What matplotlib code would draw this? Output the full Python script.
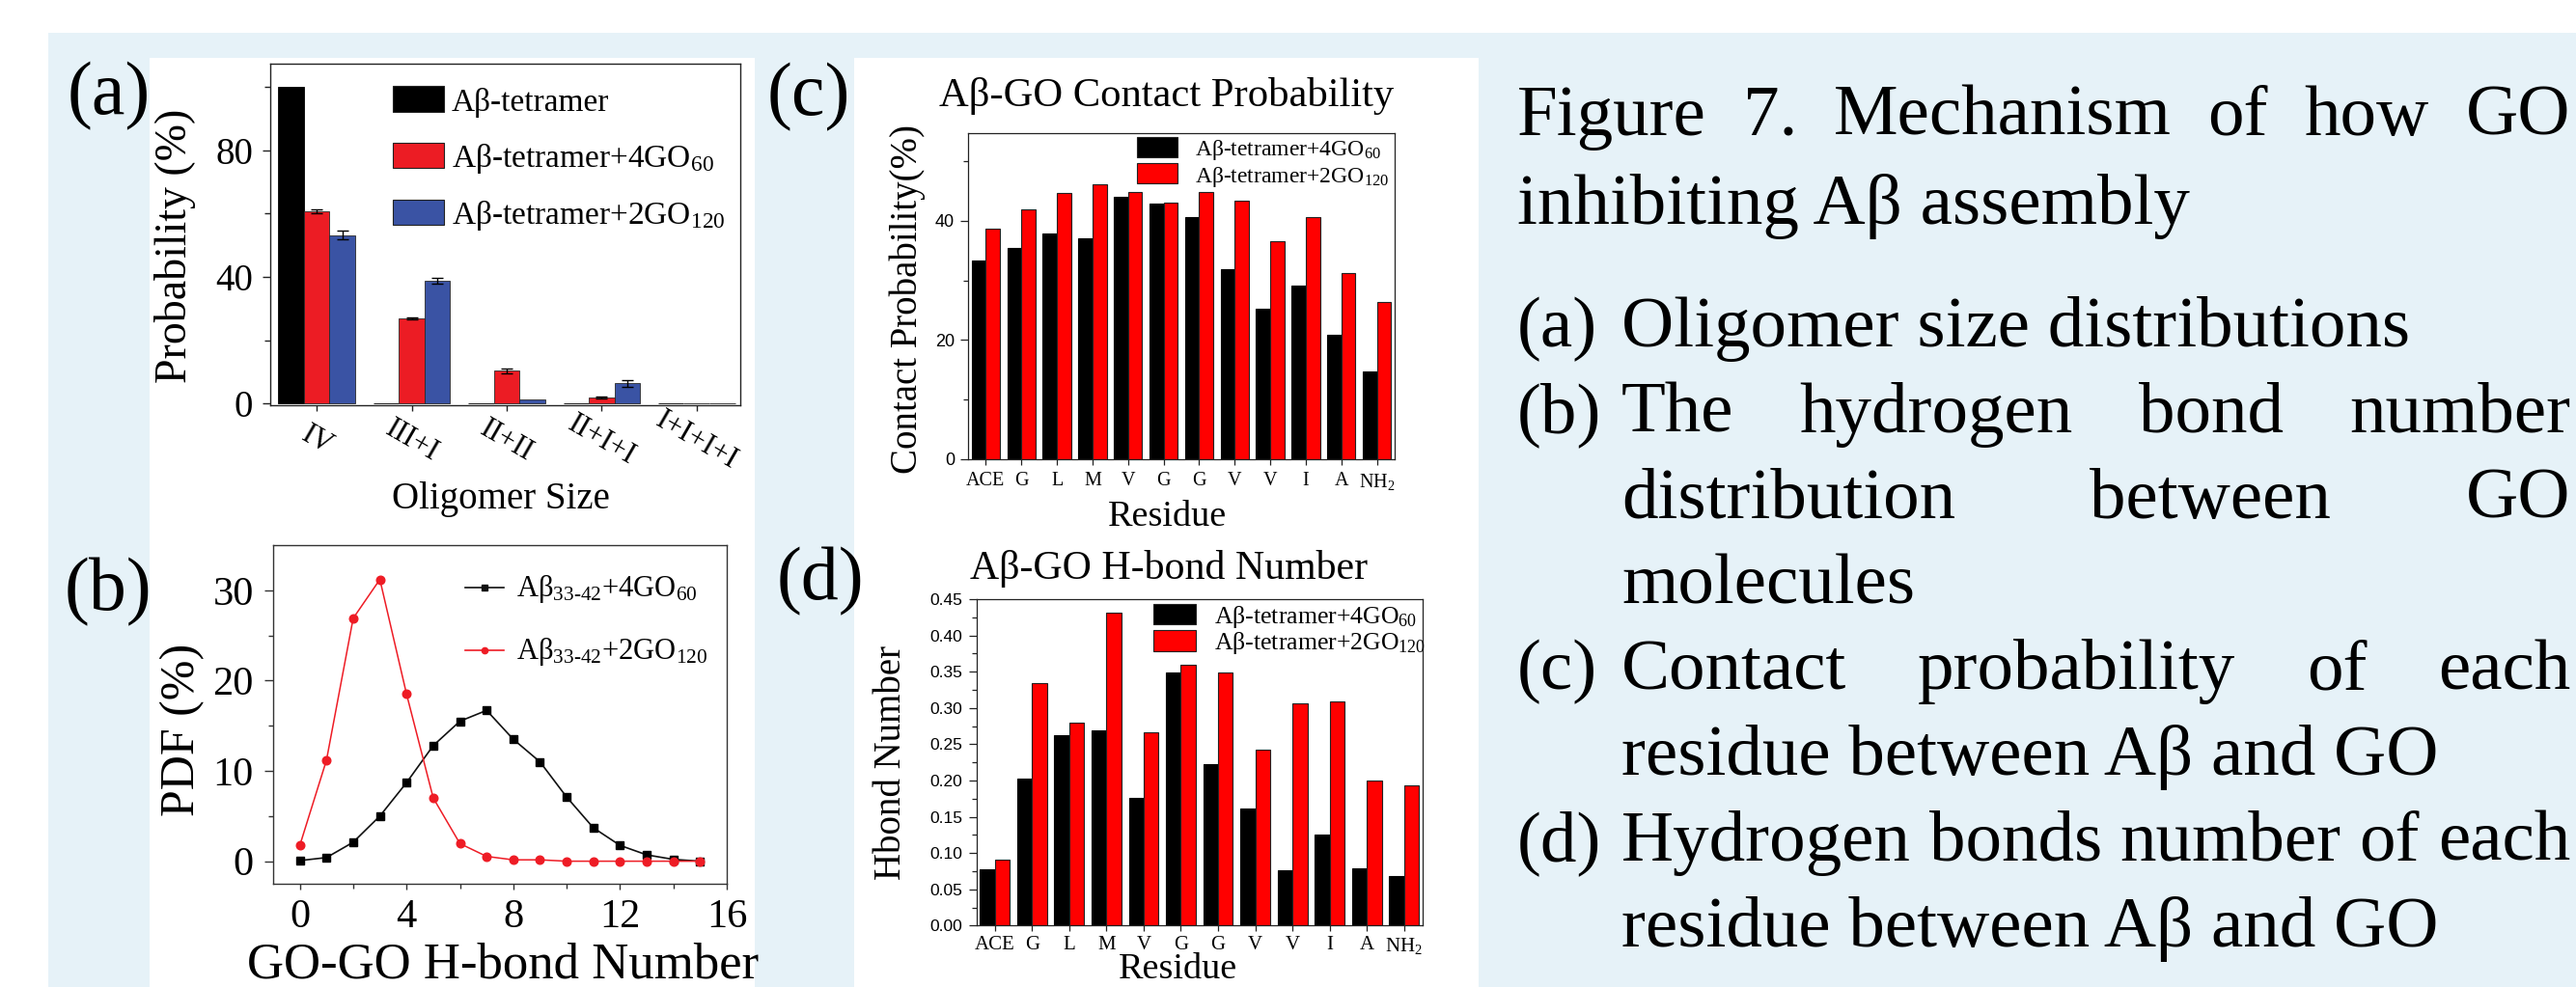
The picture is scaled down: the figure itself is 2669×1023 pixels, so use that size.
import numpy as np
import matplotlib
matplotlib.use("Agg")
import matplotlib.pyplot as plt
from matplotlib.patches import Rectangle
from matplotlib.lines import Line2D
from matplotlib.ticker import FixedLocator

plt.rcParams["font.family"] = ["Liberation Serif", "DejaVu Serif"]
plt.rcParams["mathtext.fontset"] = "custom"
plt.rcParams["mathtext.rm"] = "Liberation Serif"
plt.rcParams["mathtext.it"] = "Liberation Serif:italic"
plt.rcParams["mathtext.bf"] = "Liberation Serif:bold"

# ---------------- data ----------------
oligomer_sizes = ["IV", "III+I", "II+II", "II+I+I", "I+I+I+I"]
oligo_tetramer = [100.0, 0.0, 0.0, 0.0, 0.0]
oligo_4go60 = [60.6, 26.9, 10.4, 1.9, 0.0]
oligo_4go60_err = [0.6, 0.3, 0.7, 0.3, 0.0]
oligo_2go120 = [53.2, 38.8, 1.3, 6.4, 0.2]
oligo_2go120_err = [1.4, 1.0, 0.0, 1.0, 0.0]
legend_a = ["Aβ-tetramer",
            r"Aβ-tetramer+4GO$\mathregular{_{60}}$",
            r"Aβ-tetramer+2GO$\mathregular{_{120}}$"]

hbond_number = [0, 1, 2, 3, 4, 5, 6, 7, 8, 9, 10, 11, 12, 13, 14, 15]
pdf_4go60 = [0.07, 0.4, 2.1, 5.0, 8.7, 12.8, 15.5, 16.7, 13.5, 11.0, 7.1, 3.7, 1.75, 0.7, 0.2, 0.0]
pdf_2go120 = [1.75, 11.2, 26.9, 31.2, 18.5, 7.0, 1.95, 0.53, 0.15, 0.15, 0.0, 0.0, 0.0, 0.0, 0.0, 0.0]
legend_b = [r"Aβ$\mathregular{_{33\text{-}42}}$+4GO$\mathregular{_{60}}$",
            r"Aβ$\mathregular{_{33\text{-}42}}$+2GO$\mathregular{_{120}}$"]
legend_b_fallback = [r"Aβ$\mathregular{_{33-42}}$+4GO$\mathregular{_{60}}$",
                     r"Aβ$\mathregular{_{33-42}}$+2GO$\mathregular{_{120}}$"]

residues = ["ACE", "G", "L", "M", "V", "G", "G", "V", "V", "I", "A", r"NH$\mathregular{_2}$"]
contact_4go60 = [33.3, 35.5, 37.9, 37.1, 44.0, 42.9, 40.6, 31.9, 25.3, 29.1, 20.8, 14.8]
contact_2go120 = [38.6, 41.9, 44.7, 46.1, 44.8, 43.1, 44.8, 43.3, 36.5, 40.6, 31.3, 26.3]
hbond_4go60 = [0.078, 0.202, 0.262, 0.269, 0.176, 0.349, 0.222, 0.162, 0.076, 0.126, 0.079, 0.068]
hbond_2go120 = [0.091, 0.334, 0.280, 0.431, 0.267, 0.359, 0.349, 0.242, 0.306, 0.309, 0.200, 0.193]
legend_cd = [r"Aβ-tetramer+4GO$\mathregular{_{60}}$",
             r"Aβ-tetramer+2GO$\mathregular{_{120}}$"]

caption_title = ["Figure 7. Mechanism of how GO", "inhibiting Aβ assembly"]
caption_items = [
    ("(a)", ["Oligomer size distributions"]),
    ("(b)", ["The hydrogen bond number", "distribution between GO", "molecules"]),
    ("(c)", ["Contact probability of each", "residue between Aβ and GO"]),
    ("(d)", ["Hydrogen bonds number of each", "residue between Aβ and GO"]),
]

# ---------------- figure ----------------
W, H, DPI = 2669, 1023, 100
fig = plt.figure(figsize=(W / DPI, H / DPI), dpi=DPI, facecolor="white")
renderer = fig.canvas.get_renderer()


def fx(x):
    return x / W


def fy(y):
    return 1.0 - y / H


def fig_rect(x0, y0, x1, y1, **kw):
    r = Rectangle((fx(x0), fy(y1)), (x1 - x0) / W, (y1 - y0) / H,
                  transform=fig.transFigure, **kw)
    fig.add_artist(r)
    return r


def add_ax(l, t, r, b):
    return fig.add_axes([fx(l), fy(b), (r - l) / W, (b - t) / H])


def style_axes(ax, lw=1.0, color="#222222"):
    for s in ax.spines.values():
        s.set_linewidth(lw)
        s.set_color(color)
    ax.tick_params(which="both", direction="out", top=False, right=False,
                   color=color, width=lw)


def renderable(s, fs):
    t = fig.text(0, 0, s, fontsize=fs)
    try:
        t.get_window_extent(renderer)
        ok = True
    except Exception:
        ok = False
    t.remove()
    return ok


BG = "#E6F2F8"
fig_rect(50, 34, W, H, facecolor=BG, edgecolor="none", zorder=-20)
fig_rect(155, 60, 782, H, facecolor="white", edgecolor="none", zorder=-19)
fig_rect(885, 60, 1532, H, facecolor="white", edgecolor="none", zorder=-19)

RED_A = "#EC1C24"
BLUE_A = "#3A53A4"
RED_C = "#FF0000"

# ---------------- panel (a) ----------------
axA = add_ax(280, 66, 767, 420)
style_axes(axA, lw=1.0)
xa = np.arange(len(oligomer_sizes))
wa = 0.27
axA.bar(xa - wa, oligo_tetramer, wa, color="black", edgecolor="black", linewidth=0.6)
axA.bar(xa, oligo_4go60, wa, color=RED_A, edgecolor="#2a2a2a", linewidth=0.6)
axA.bar(xa + wa, oligo_2go120, wa, color=BLUE_A, edgecolor="#2a2a2a", linewidth=0.6)
for off, vals, errs in ((0.0, oligo_4go60, oligo_4go60_err),
                        (wa, oligo_2go120, oligo_2go120_err)):
    idx = [i for i, e in enumerate(errs) if e > 0]
    axA.errorbar(xa[idx] + off, [vals[i] for i in idx], yerr=[errs[i] for i in idx],
                 fmt="none", ecolor="black", elinewidth=1.0, capsize=4, capthick=1.0)
axA.set_xlim(-0.49, 4.46)
axA.set_ylim(-0.5, 107.3)
axA.set_yticks([0, 40, 80])
axA.yaxis.set_minor_locator(FixedLocator([20, 60, 100]))
axA.set_xticks(xa)
axA.set_xticklabels(oligomer_sizes, rotation=-30, ha="center", va="center",
                    rotation_mode="anchor", fontsize=22)
axA.tick_params(axis="y", labelsize=28, length=6, pad=7)
axA.tick_params(axis="y", which="minor", length=4)
axA.tick_params(axis="x", length=4.5, pad=22)
axA.set_ylabel("Probability (%)", fontsize=33)
axA.yaxis.set_label_coords(fx(203), fy(255), transform=fig.transFigure)
axA.set_xlabel("Oligomer Size", fontsize=28, va="baseline")
axA.xaxis.set_label_coords(fx(519), fy(527), transform=fig.transFigure)

leg_a_colors = ["black", RED_A, BLUE_A]
leg_a_rows = [(89, 116), (148, 174), (207, 233)]
for col, (y0, y1), lab in zip(leg_a_colors, leg_a_rows, legend_a):
    fig_rect(407, y0, 460, y1, facecolor=col, edgecolor="#222222", linewidth=0.8, zorder=5)
    fig.text(fx(468), fy(y1 - 1), lab, fontsize=24, va="baseline", ha="left")

# ---------------- panel (b) ----------------
axB = add_ax(283, 565, 753, 916)
style_axes(axB, lw=1.0, color="#333333")
axB.plot(hbond_number, pdf_4go60, color="#111111", lw=1.2, marker="s", ms=5.8,
         mfc="black", mec="black")
axB.plot(hbond_number, pdf_2go120, color="#EE1C25", lw=1.1, marker="o", ms=6.2,
         mfc="#EE1C25", mec="#EE1C25")
axB.set_xlim(-1, 16)
axB.set_ylim(-2.5, 35)
axB.set_xticks([0, 4, 8, 12, 16])
axB.xaxis.set_minor_locator(FixedLocator([2, 6, 10, 14]))
axB.set_yticks([0, 10, 20, 30])
axB.yaxis.set_minor_locator(FixedLocator([5, 15, 25]))
axB.tick_params(axis="both", labelsize=30.5)
axB.tick_params(axis="y", length=6.5, pad=8)
axB.tick_params(axis="x", length=4.5, pad=6.5)
axB.tick_params(which="minor", length=3.5)
axB.set_ylabel("PDF (%)", fontsize=36)
axB.yaxis.set_label_coords(fx(212), fy(756), transform=fig.transFigure)
axB.set_xlabel("GO-GO H-bond Number", fontsize=38, va="baseline")
axB.xaxis.set_label_coords(fx(521), fy(1013), transform=fig.transFigure)

labels_b = legend_b if renderable(legend_b[0], 22) else legend_b_fallback
for (col, mk, ms), yl, lab in zip((("#111111", "s", 4.0), ("#EE1C25", "o", 4.5)),
                                  (609, 674), labels_b):
    fig.add_artist(Line2D([fx(482), fx(522)], [fy(yl), fy(yl)], color=col, lw=1.2,
                          transform=fig.transFigure, zorder=5))
    fig.add_artist(Line2D([fx(502)], [fy(yl)], color=col, marker=mk, ms=ms,
                          transform=fig.transFigure, zorder=5))
    fig.text(fx(535), fy(yl + 9), lab, fontsize=22, va="baseline", ha="left")

# ---------------- panel (c) ----------------
axC = add_ax(1003, 138, 1445, 476)
style_axes(axC, lw=0.9)
xr = np.arange(len(residues))
bw = 0.4
axC.bar(xr - bw / 2, contact_4go60, bw, color="black", edgecolor="black", linewidth=0.8)
axC.bar(xr + bw / 2, contact_2go120, bw, color=RED_C, edgecolor="#222222", linewidth=0.8)
axC.set_xlim(-0.5, 11.5)
axC.set_ylim(0, 54.7)
axC.set_xticks(xr)
axC.set_xticklabels(residues, fontsize=14.5)
axC.set_yticks([0, 20, 40], ["0", "20", "40"], fontsize=13, fontfamily="Liberation Sans")
axC.yaxis.set_minor_locator(FixedLocator([10, 30, 50]))
axC.tick_params(axis="y", length=6, pad=4)
axC.tick_params(axis="y", which="minor", length=3.5)
axC.tick_params(axis="x", length=4.5, pad=5)
axC.set_title("Aβ-GO Contact Probability", fontsize=30.7, va="baseline",
              x=(1209 - 1003) / 442, y=1 + (138 - 110) / 338, pad=0)
axC.set_ylabel("Contact Probability(%)", fontsize=28)
axC.yaxis.set_label_coords(fx(959), fy(310), transform=fig.transFigure)
axC.set_xlabel("Residue", fontsize=27.5, va="baseline")
axC.xaxis.set_label_coords(fx(1209.5), fy(545), transform=fig.transFigure)

for col, (y0, y1), yb, lab in zip(("black", RED_C), ((142, 163), (169, 190)),
                                  (161.5, 189), legend_cd):
    fig_rect(1178, y0, 1220, y1, facecolor=col, edgecolor="#222222", linewidth=0.8, zorder=5)
    fig.text(fx(1238), fy(yb), lab, fontsize=17, va="baseline", ha="left")

# ---------------- panel (d) ----------------
axD = add_ax(1011.5, 621, 1474, 959.3)
style_axes(axD, lw=0.9)
axD.bar(xr - bw / 2, hbond_4go60, bw, color="black", edgecolor="black", linewidth=0.8)
axD.bar(xr + bw / 2, hbond_2go120, bw, color=RED_C, edgecolor="#222222", linewidth=0.8)
axD.set_xlim(-0.5, 11.5)
axD.set_ylim(0, 0.45)
axD.set_xticks(xr)
axD.set_xticklabels(residues, fontsize=15)
yt = [round(0.05 * k, 2) for k in range(10)]
axD.set_yticks(yt, [f"{v:.2f}" for v in yt], fontsize=12.5, fontfamily="Liberation Sans")
axD.yaxis.set_minor_locator(FixedLocator([0.025 + 0.05 * k for k in range(9)]))
axD.tick_params(axis="y", length=6, pad=4)
axD.tick_params(axis="y", which="minor", length=3.5)
axD.tick_params(axis="x", length=4.5, pad=3)
axD.set_title("Aβ-GO H-bond Number", fontsize=30.2, va="baseline",
              x=(1211 - 1011.5) / 462.5, y=1 + (621 - 600) / 338.3, pad=0)
axD.set_ylabel("Hbond Number", fontsize=28)
axD.yaxis.set_label_coords(fx(942), fy(790), transform=fig.transFigure)
axD.set_xlabel("Residue", fontsize=27.5, va="baseline")
axD.xaxis.set_label_coords(fx(1221), fy(1014), transform=fig.transFigure)

for col, (y0, y1), yb, lab in zip(("black", RED_C), ((626, 647), (653, 675)),
                                  (646, 673), legend_cd):
    fig_rect(1195, y0, 1239, y1, facecolor=col, edgecolor="#222222", linewidth=0.8, zorder=5)
    fig.text(fx(1258), fy(yb), lab, fontsize=18.5, va="baseline", ha="left")

# ---------------- panel labels ----------------
for lab, x, yb in (("(a)", 70, 118), ("(b)", 67, 632), ("(c)", 795, 119), ("(d)", 805, 621)):
    fig.text(fx(x), fy(yb), lab, fontsize=56, va="baseline", ha="left")

# ---------------- caption ----------------
CAP_FS = 54


def text_width(s, fs):
    t = fig.text(0, 0, s, fontsize=fs)
    w = t.get_window_extent(renderer).width
    t.remove()
    return w


def draw_line(s, x0, x1, yb, justify):
    if not justify:
        fig.text(fx(x0), fy(yb), s, fontsize=CAP_FS, va="baseline", ha="left")
        return
    words = s.split()
    widths = [text_width(w, CAP_FS) for w in words]
    gap = (x1 - x0 - sum(widths)) / (len(words) - 1)
    x = x0
    for w, wd in zip(words, widths):
        fig.text(fx(x), fy(yb), w, fontsize=CAP_FS, va="baseline", ha="left")
        x += wd + gap


LEFT, INDENT, RIGHT = 1572, 1680, 2663
LINE = 88.8
baselines_title = [140, 232]
for i, s in enumerate(caption_title):
    draw_line(s, LEFT, RIGHT, baselines_title[i], i < len(caption_title) - 1)

yb = 359
for tag, lines in caption_items:
    fig.text(fx(LEFT), fy(yb), tag, fontsize=CAP_FS, va="baseline", ha="left")
    for j, s in enumerate(lines):
        draw_line(s, INDENT, RIGHT, yb, j < len(lines) - 1)
        yb += LINE

fig.savefig("out.png", dpi=DPI, facecolor="white")
